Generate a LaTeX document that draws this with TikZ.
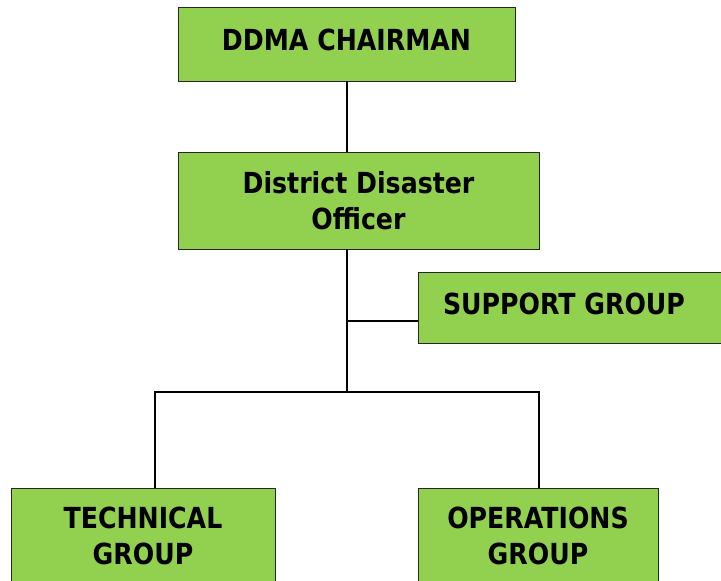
\documentclass[tikz,border=0pt]{standalone}
\usepackage{fontspec}
\setmainfont{DejaVu Sans}[FakeStretch=0.87]
\usepackage{tikz}
\definecolor{boxgreen}{RGB}{146,208,80}
\tikzset{
  orgbox/.style={draw=black!85,line width=0.9pt,fill=boxgreen,inner sep=0pt,font=\fontsize{29}{36}\selectfont\bfseries,align=center},
  link/.style={line width=1.3pt}
}

\begin{document}
\begin{tikzpicture}[x=1pt,y=-1pt]
\clip (0,0) rectangle (721,581);
\fill[white] (0,0) rectangle (721,581);
\node[orgbox,minimum width=337pt,minimum height=74pt,text depth=9pt] (chair) at (346.5,44) {DDMA CHAIRMAN};
\node[orgbox,minimum width=361pt,minimum height=97pt] (officer) at (358.5,200.5) {District Disaster\\Officer};
\node[orgbox,minimum width=320pt,minimum height=71pt] (support) at (578,307.5) {};
\node (supportlbl) at (564,303.5) {\fontsize{29}{36}\selectfont\bfseries SUPPORT GROUP};
\node[orgbox,minimum width=264pt,minimum height=96pt] (technical) at (143,536) {TECHNICAL\\GROUP};
\node[orgbox,minimum width=240pt,minimum height=96pt] (operations) at (538,536) {OPERATIONS\\GROUP};

\coordinate (split) at (347,392);
\coordinate (sidejoin) at (347,321);
\coordinate (techjoin) at (155,392);
\coordinate (opsjoin) at (539,392);

\draw[link] (split |- chair.south) -- (split |- officer.north);
\draw[link] (split |- officer.south) -- (split);
\draw[link] (sidejoin) -- (sidejoin -| support.west);
\draw[link] (techjoin |- technical.north) -- (techjoin) -- (opsjoin) -- (opsjoin |- operations.north);
\end{tikzpicture}
\end{document}
